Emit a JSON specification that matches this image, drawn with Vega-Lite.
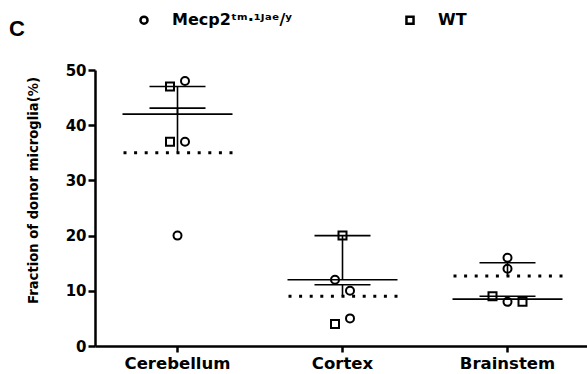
{
  "$schema": "https://vega.github.io/schema/vega-lite/v6.json",
  "width": 495,
  "height": 276,
  "autosize": "none",
  "padding": {"left": 95, "top": 70, "right": 0, "bottom": 28},
  "background": "white",
  "title": {"text": "C", "anchor": "start", "frame": "group", "orient": "top", "dx": -86, "offset": 0, "dy": 46, "font": "Liberation Sans", "fontSize": 22, "fontWeight": "bold", "color": "black", "baseline": "alphabetic"},
  "datasets": {
    "points": [
      {"region": "Cerebellum", "genotype": "Mecp2", "value": 48, "lane": 1},
      {"region": "Cerebellum", "genotype": "WT", "value": 47, "lane": -1},
      {"region": "Cerebellum", "genotype": "WT", "value": 37, "lane": -1},
      {"region": "Cerebellum", "genotype": "Mecp2", "value": 37, "lane": 1},
      {"region": "Cerebellum", "genotype": "Mecp2", "value": 20, "lane": 0},
      {"region": "Cortex", "genotype": "WT", "value": 20, "lane": 0},
      {"region": "Cortex", "genotype": "Mecp2", "value": 12, "lane": -1},
      {"region": "Cortex", "genotype": "Mecp2", "value": 10, "lane": 1},
      {"region": "Cortex", "genotype": "WT", "value": 4, "lane": -1},
      {"region": "Cortex", "genotype": "Mecp2", "value": 5, "lane": 1},
      {"region": "Brainstem", "genotype": "Mecp2", "value": 16, "lane": 0},
      {"region": "Brainstem", "genotype": "Mecp2", "value": 14, "lane": 0},
      {"region": "Brainstem", "genotype": "WT", "value": 9, "lane": -2},
      {"region": "Brainstem", "genotype": "Mecp2", "value": 8, "lane": 0},
      {"region": "Brainstem", "genotype": "WT", "value": 8, "lane": 2}
    ],
    "summary": [
      {"region": "Cerebellum", "genotype": "WT", "mean": 42, "upper": 47},
      {"region": "Cerebellum", "genotype": "Mecp2", "mean": 35, "upper": 43.1},
      {"region": "Cortex", "genotype": "WT", "mean": 12, "upper": 20},
      {"region": "Cortex", "genotype": "Mecp2", "mean": 9, "upper": 11.1},
      {"region": "Brainstem", "genotype": "WT", "mean": 8.5, "upper": 9},
      {"region": "Brainstem", "genotype": "Mecp2", "mean": 12.67, "upper": 15.07}
    ]
  },
  "encoding": {
    "x": {
      "field": "region", "type": "nominal", "sort": ["Cerebellum", "Cortex", "Brainstem"],
      "scale": {"type": "band", "paddingInner": 0, "paddingOuter": 0},
      "axis": {"title": null, "labelAngle": 0, "tickSize": 6, "tickWidth": 2.5, "tickColor": "black", "domainColor": "black", "domainWidth": 2.5, "labelFont": "DejaVu Sans", "labelFontWeight": "bold", "labelFontSize": 16.5, "labelColor": "black", "labelPadding": 3}
    }
  },
  "layer": [
    {
      "data": {"name": "summary"},
      "mark": {"type": "rule", "color": "black", "strokeWidth": 1.6},
      "encoding": {
        "y": {"field": "mean", "type": "quantitative", "scale": {"domain": [0, 50], "nice": false},
          "axis": {"values": [0, 10, 20, 30, 40, 50], "grid": false, "tickSize": 7, "tickWidth": 2.5, "tickColor": "black", "domainColor": "black", "domainWidth": 2.5, "labelFont": "DejaVu Sans", "labelFontWeight": "bold", "labelFontSize": 15, "labelColor": "black", "labelPadding": 2,
            "title": "Fraction of donor microglia(%)", "titleFont": "DejaVu Sans", "titleFontWeight": "bold", "titleFontSize": 13.2, "titleColor": "black", "titleX": -62, "titleY": 120, "titleBaseline": "middle", "titleAlign": "center"}},
        "y2": {"field": "upper"}
      }
    },
    {
      "data": {"name": "summary"},
      "transform": [{"filter": "datum.genotype == 'WT'"}],
      "mark": {"type": "rule", "color": "black", "strokeWidth": 1.6, "xOffset": -55, "x2Offset": 55},
      "encoding": {"x2": {"field": "region"}, "y": {"field": "mean", "type": "quantitative"}}
    },
    {
      "data": {"name": "summary"},
      "transform": [{"filter": "datum.genotype == 'Mecp2'"}],
      "mark": {"type": "rule", "color": "black", "strokeWidth": 3, "strokeDash": [3, 7.6], "strokeCap": "butt", "xOffset": -54, "x2Offset": 55},
      "encoding": {"x2": {"field": "region"}, "y": {"field": "mean", "type": "quantitative"}}
    },
    {
      "data": {"name": "summary"},
      "mark": {"type": "rule", "color": "black", "strokeWidth": 1.6, "xOffset": -28, "x2Offset": 28},
      "encoding": {"x2": {"field": "region"}, "y": {"field": "upper", "type": "quantitative"}}
    },
    {
      "data": {"name": "points"},
      "mark": {"type": "point", "filled": false, "color": "black", "strokeWidth": 2, "size": 64, "opacity": 1},
      "encoding": {
        "y": {"field": "value", "type": "quantitative"},
        "xOffset": {"field": "lane", "type": "quantitative", "scale": {"domain": [-2, 2], "range": [67.5, 97.5]}},
        "shape": {"field": "genotype", "type": "nominal",
          "scale": {"domain": ["Mecp2", "WT"], "range": ["circle", "square"]},
          "legend": {"orient": "none", "legendX": 41, "legendY": -58, "direction": "horizontal", "title": null,
            "labelExpr": "datum.label == 'Mecp2' ? 'Mecp2ᵗᵐ·¹ᴶᵃᵉ/ʸ' : datum.label",
            "labelFont": "DejaVu Sans", "labelFontWeight": "bold", "labelFontSize": 16, "labelColor": "black", "labelOffset": 20,
            "symbolStrokeWidth": 2.5, "symbolSize": 50, "symbolStrokeColor": "black", "columnPadding": 109, "labelLimit": 300}
        }
      }
    }
  ],
  "config": {"view": {"stroke": null}}
}
